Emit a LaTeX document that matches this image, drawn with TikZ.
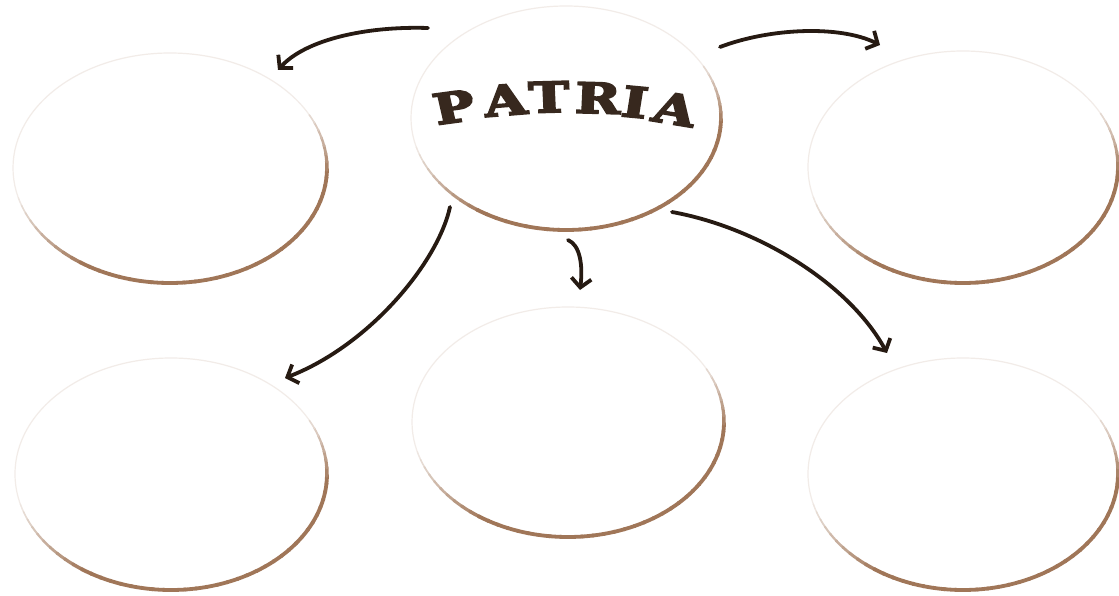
\documentclass[tikz,border=0pt]{standalone}
\usepackage{fontspec}
\newfontfamily\patriafont[FakeBold=4]{DejaVu Serif Bold}
\usetikzlibrary{shapes.geometric,arrows.meta}
\definecolor{rimc}{RGB}{160,118,88}
\definecolor{arrc}{RGB}{38,26,18}
\definecolor{txtc}{RGB}{55,40,30}
\tikzset{
  bubble/.style={ellipse,draw=rimc!14,line width=1.2pt,inner sep=0pt,minimum width=312pt,minimum height=230pt},
  conn/.style={draw=arrc,line width=3.8pt,line cap=round,-{Straight Barb[length=9pt,width=20pt,line width=3.8pt]}},
  letter/.style={font=\patriafont\fontsize{42}{42}\selectfont,text=txtc,inner sep=0pt,xscale=1.3}
}
\newcommand\rimarc[3]{%
  \foreach \a in {195,199,...,383}{
    \pgfmathsetmacro\tt{min(1,(\a-195)/40,(387-\a)/32)}
    \pgfmathsetmacro\c{18+82*\tt}
    \pgfmathsetmacro\w{1.2+2.6*\tt}
    \pgfmathsetmacro\b{\a+4.5}
    \draw[rimc!\c,line width=\w pt,line cap=round]
      ([shift={(\a:#2pt and #3pt)}]#1.center) arc[start angle=\a,end angle=\b,x radius=#2pt,y radius=#3pt];
  }%
}
\begin{document}
\begin{tikzpicture}[x=1pt,y=-1pt]
\useasboundingbox[fill=white] (0,0) rectangle (1119,596);
% bubbles
\node[bubble,minimum width=310pt,minimum height=224pt] (patria) at (566,118) {};
\node[bubble,minimum width=314pt,minimum height=230pt] (tl) at (170,168) {};
\node[bubble,minimum width=310pt,minimum height=232pt] (tr) at (963,167) {};
\node[bubble,minimum width=312pt,minimum height=232pt] (bl) at (171,474) {};
\node[bubble,minimum width=312pt,minimum height=230pt] (bm) at (568,422) {};
\node[bubble,minimum width=310pt,minimum height=232pt] (br) at (963,474) {};
\rimarc{patria}{155}{112}
\rimarc{tl}{157}{115}
\rimarc{tr}{155}{116}
\rimarc{bl}{156}{116}
\rimarc{bm}{156}{115}
\rimarc{br}{155}{116}
% title letters
\node[letter,rotate=10] (l1) at (454,107) {P};
\node[letter,rotate=6] (l2) at (505,100) {A};
\node[letter,rotate=2] (l3) at (549,97) {T};
\node[letter,rotate=-2] (l4) at (598,98) {R};
\node[letter,rotate=-7] (l5) at (635,102) {I};
\node[letter,rotate=-12] (l6) at (675,109) {A};
% connectors
\draw[conn] ([shift={(-138,-90)}]patria.center) .. controls (365,26) and (305,40) .. ([shift={(108,-98)}]tl.center);
\draw[conn] ([shift={(154,-71)}]patria.center) .. controls (770,28) and (840,25) .. ([shift={(-83,-122)}]tr.center);
\draw[conn] ([shift={(-116,89)}]patria.center) .. controls (438,262) and (370,345) .. ([shift={(114,-96)}]bl.center);
\draw[conn] ([shift={(2,122)}]patria.center) .. controls (580,245) and (583,265) .. ([shift={(12,-132)}]bm.center);
\draw[conn] ([shift={(106,94)}]patria.center) .. controls (760,228) and (850,285) .. ([shift={(-76,-121)}]br.center);
\end{tikzpicture}
\end{document}
